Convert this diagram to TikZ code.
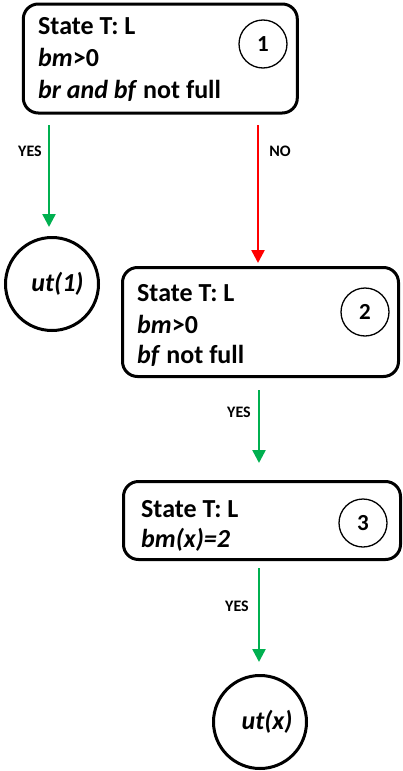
\documentclass[tikz,border=0pt]{standalone}
\usepackage{fontspec}
\setmainfont{Carlito}
\usetikzlibrary{arrows.meta}
\definecolor{okgreen}{RGB}{0,176,80}
\definecolor{nored}{RGB}{255,0,0}
\tikzset{
  statebox/.style={draw, line width=3pt, rounded corners=15pt, minimum width=#1, inner sep=0pt},
  numcircle/.style={draw, circle, line width=1.3pt, minimum size=48pt, inner sep=0pt,
    font=\fontsize{23}{27}\selectfont\bfseries},
  utcircle/.style={draw, circle, line width=3pt, minimum size=93pt, inner sep=0pt,
    font=\fontsize{26}{30}\selectfont\bfseries\itshape},
  line/.style={inner sep=0pt, anchor=base west, font=\fontsize{26}{30}\selectfont\bfseries},
  tip/.style={-{Triangle[width=13pt,length=13pt]}, line width=2.5pt},
  yesarrow/.style={tip, draw=okgreen},
  noarrow/.style={tip, draw=nored},
  lab/.style={font=\fontsize{16}{18}\selectfont\bfseries, inner sep=0pt}
}
\begin{document}
\begin{tikzpicture}[x=1pt,y=-1pt]
\useasboundingbox (0,0) rectangle (403,771);

% state 1
\node[statebox=274pt, minimum height=109pt] (box1) at (160.3,58.5) {};
\node[numcircle] (n1) at (263,44) {1};
\node[line] (t1a) at (38,34) {State T: L};
\node[line] (t1b) at (38,66) {\textit{bm}>0};
\node[line] (t1c) at (38,98) {\textit{br and bf} not full};

% utility of state 1
\node[utcircle] (ut1) at (52,284) {\hspace{11pt}ut(1)};

% state 2
\node[statebox=276pt, minimum height=109pt] (box2) at (260.5,322) {};
\node[numcircle] (n2) at (365,312) {2};
\node[line] (t2a) at (137,301) {State T: L};
\node[line] (t2b) at (137,333) {\textit{bm}>0};
\node[line] (t2c) at (137,363) {\textit{bf} not full};

% state 3
\node[statebox=277pt, minimum height=78pt] (box3) at (262,520.5) {};
\node[numcircle] (n3) at (363,523) {3};
\node[line] (t3a) at (141,517) {State T: L};
\node[line] (t3b) at (141,547) {\textit{bm(x)=2}};

% utility of state x
\node[utcircle] (utx) at (260,722) {\hspace{14pt}ut(x)};

% transitions
\draw[yesarrow, shorten <=10.5pt, shorten >=9pt]
  ([xshift=-3pt]box1.south -| ut1.north) -- ([xshift=-3pt]ut1.north)
  node[lab, pos=0.30, anchor=east, xshift=-6pt] {YES};
\draw[noarrow, shorten <=10.5pt, shorten >=3pt]
  ([xshift=-2.5pt]box2.north |- box1.south) -- ([xshift=-2.5pt]box2.north)
  node[lab, pos=0.24, anchor=west, xshift=10pt] {NO};
\draw[yesarrow, shorten <=12pt, shorten >=17pt]
  ([xshift=-3pt]box3.north |- box2.south) -- ([xshift=-3pt]box3.north)
  node[lab, pos=0.34, anchor=east, xshift=-7pt] {YES};
\draw[yesarrow, shorten <=7pt, shorten >=12pt]
  ([xshift=-1pt]utx.north |- box3.south) -- ([xshift=-1pt]utx.north)
  node[lab, pos=0.40, anchor=east, xshift=-9pt] {YES};
\end{tikzpicture}
\end{document}
